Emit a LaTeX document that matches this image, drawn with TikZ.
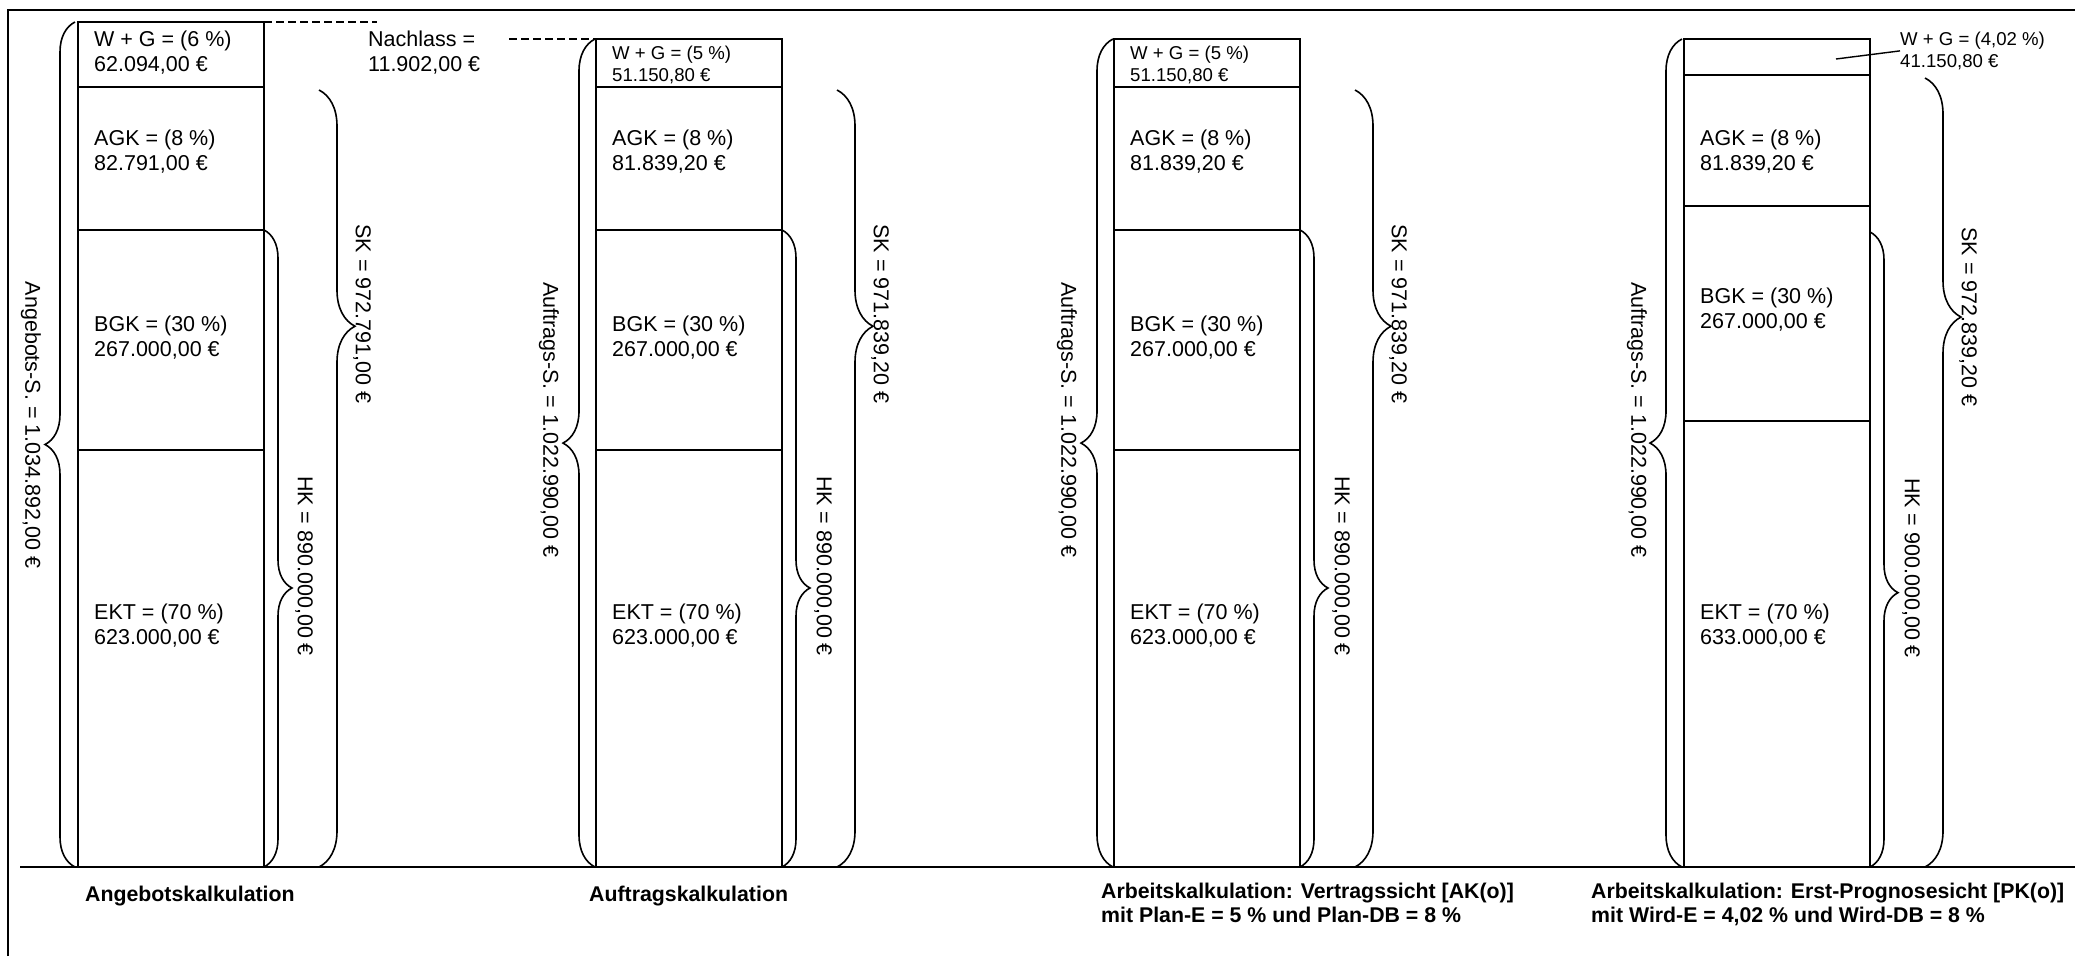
\documentclass[tikz,border=0pt]{standalone}
\usepackage{fontspec}
\setmainfont{Liberation Sans}
\usetikzlibrary{positioning,calc,decorations.pathreplacing}

\begin{document}
\begin{tikzpicture}[x=1pt,y=-1pt,
  seg/.style={draw,line width=1.6pt,minimum width=186pt,inner sep=0pt,outer sep=0pt},
  txt/.style={anchor=north west,inner sep=0pt,align=left,font=\fontsize{21.5pt}{25pt}\selectfont},
  smalltxt/.style={txt,font=\fontsize{18.6pt}{21.5pt}\selectfont},
  sumlbl/.style={rotate=-90,inner sep=0pt,font=\fontsize{21.5pt}{25pt}\selectfont},
  titlelbl/.style={anchor=north west,inner sep=0pt,align=left,font=\fontsize{21.3pt}{24pt}\selectfont\bfseries},
  brc/.style 2 args={decorate,line width=1.6pt,decoration={brace,amplitude=#1,aspect=#2}},
  nachl/.style={line width=1.2pt,dash pattern=on 8pt off 4pt},
]
\useasboundingbox (0,0) rectangle (2075,956);
\draw[line width=2.5pt] (8,956) -- (8,10) -- (2075,10);
\draw[line width=1.8pt] (20,867) -- (2075,867);

% Angebotskalkulation
\node[seg,minimum height=65pt,anchor=north west] (wg1) at (78,22) {};
\node[seg,minimum height=143pt,below=0pt of wg1] (agk1) {};
\node[seg,minimum height=220pt,below=0pt of agk1] (bgk1) {};
\node[seg,minimum height=417pt,below=0pt of bgk1] (ekt1) {};
\node[txt] (wg1t) at (94,31) {W + G = (6 \%)\\62.094,00 €};
\node[txt] (agk1t) at (94,130) {AGK = (8 \%)\\82.791,00 €};
\node[txt] (bgk1t) at (94,316) {BGK = (30 \%)\\267.000,00 €};
\node[txt] (ekt1t) at (94,604) {EKT = (70 \%)\\623.000,00 €};
\draw[brc={30pt}{0.5}] ($(ekt1.south west)+(-3,0)$) -- ($(wg1.north west)+(-3,0)$);
\draw[brc={28pt}{0.562}] (bgk1.north east) -- (ekt1.south east);
\draw[brc={36pt}{0.304}] ($(agk1.north east)+(55,3)$) -- ($(ekt1.south east)+(55,0)$);
\node[sumlbl] (as1) at (31,425) {Angebots-S. = 1.034.892,00 €};
\node[sumlbl] (hk1) at (304,566) {HK = 890.000,00 €};
\node[sumlbl] (sk1) at (362,314) {SK = 972.791,00 €};

% Nachlass
\node[txt] (nachlass) at (368,31) {Nachlass =\\11.902,00 €};
\coordinate (n1) at (377,22);
\coordinate (n2) at (509,39);

% Auftragskalkulation
\node[seg,minimum height=48pt,anchor=north west] (wg2) at (596,39) {};
\node[seg,minimum height=143pt,below=0pt of wg2] (agk2) {};
\node[seg,minimum height=220pt,below=0pt of agk2] (bgk2) {};
\node[seg,minimum height=417pt,below=0pt of bgk2] (ekt2) {};
\node[smalltxt] (wg2t) at (612,46) {W + G = (5 \%)\\51.150,80 €};
\node[txt] (agk2t) at (612,130) {AGK = (8 \%)\\81.839,20 €};
\node[txt] (bgk2t) at (612,316) {BGK = (30 \%)\\267.000,00 €};
\node[txt] (ekt2t) at (612,604) {EKT = (70 \%)\\623.000,00 €};
\draw[brc={32pt}{0.512}] ($(ekt2.south west)+(-1,0)$) -- ($(wg2.north west)+(-1,0)$);
\draw[brc={28pt}{0.562}] (bgk2.north east) -- (ekt2.south east);
\draw[brc={36pt}{0.304}] ($(agk2.north east)+(55,3)$) -- ($(ekt2.south east)+(55,0)$);
\node[sumlbl] (as2) at (549,420) {Auftrags-S. = 1.022.990,00 €};
\node[sumlbl] (hk2) at (823,566) {HK = 890.000,00 €};
\node[sumlbl] (sk2) at (880,314) {SK = 971.839,20 €};

\draw[nachl] (wg1.north east) -- (n1);
\draw[nachl] (n2) -- (wg2.north west);

% Arbeitskalkulation AK(o)
\node[seg,minimum height=48pt,anchor=north west] (wg3) at (1114,39) {};
\node[seg,minimum height=143pt,below=0pt of wg3] (agk3) {};
\node[seg,minimum height=220pt,below=0pt of agk3] (bgk3) {};
\node[seg,minimum height=417pt,below=0pt of bgk3] (ekt3) {};
\node[smalltxt] (wg3t) at (1130,46) {W + G = (5 \%)\\51.150,80 €};
\node[txt] (agk3t) at (1130,130) {AGK = (8 \%)\\81.839,20 €};
\node[txt] (bgk3t) at (1130,316) {BGK = (30 \%)\\267.000,00 €};
\node[txt] (ekt3t) at (1130,604) {EKT = (70 \%)\\623.000,00 €};
\draw[brc={32pt}{0.512}] ($(ekt3.south west)+(-1,0)$) -- ($(wg3.north west)+(-1,0)$);
\draw[brc={28pt}{0.562}] (bgk3.north east) -- (ekt3.south east);
\draw[brc={36pt}{0.304}] ($(agk3.north east)+(55,3)$) -- ($(ekt3.south east)+(55,0)$);
\node[sumlbl] (as3) at (1067,420) {Auftrags-S. = 1.022.990,00 €};
\node[sumlbl] (hk3) at (1341,566) {HK = 890.000,00 €};
\node[sumlbl] (sk3) at (1398,314) {SK = 971.839,20 €};

% Arbeitskalkulation PK(o)
\node[seg,minimum height=36pt,anchor=north west] (wg4) at (1684,39) {};
\node[seg,minimum height=131pt,below=0pt of wg4] (agk4) {};
\node[seg,minimum height=215pt,below=0pt of agk4] (bgk4) {};
\node[seg,minimum height=446pt,below=0pt of bgk4] (ekt4) {};
\node[smalltxt] (wg4t) at (1900,32) {W + G = (4,02 \%)\\41.150,80 €};
\coordinate (wg4p) at ($(wg4.north west)+(152,20)$);
\draw[line width=1.4pt] (wg4p) -- (wg4t.west);
\node[txt] (agk4t) at (1700,130) {AGK = (8 \%)\\81.839,20 €};
\node[txt] (bgk4t) at (1700,288) {BGK = (30 \%)\\267.000,00 €};
\node[txt] (ekt4t) at (1700,604) {EKT = (70 \%)\\633.000,00 €};
\draw[brc={32pt}{0.512}] ($(ekt4.south west)+(-2,0)$) -- ($(wg4.north west)+(-2,0)$);
\draw[brc={28pt}{0.568}] ($(bgk4.north east)+(0,26)$) -- (ekt4.south east);
\draw[brc={36pt}{0.303}] ($(agk4.north east)+(55,3)$) -- ($(ekt4.south east)+(55,0)$);
\node[sumlbl] (as4) at (1637,420) {Auftrags-S. = 1.022.990,00 €};
\node[sumlbl] (hk4) at (1911,568) {HK = 900.000,00 €};
\node[sumlbl] (sk4) at (1968,317) {SK = 972.839,20 €};

% Beschriftung
\node[titlelbl] (angk) at (85,886) {Angebotskalkulation};
\node[titlelbl] (aufk) at (589,886) {Auftragskalkulation};
\node[titlelbl] (akv) at (1101,883) {Arbeitskalkulation: Vertragssicht [AK(o)]\\mit Plan-E = 5 \% und Plan-DB = 8 \%};
\node[titlelbl] (akp) at (1591,883) {Arbeitskalkulation: Erst-Prognosesicht [PK(o)]\\mit Wird-E = 4,02 \% und Wird-DB = 8 \%};
\end{tikzpicture}
\end{document}
